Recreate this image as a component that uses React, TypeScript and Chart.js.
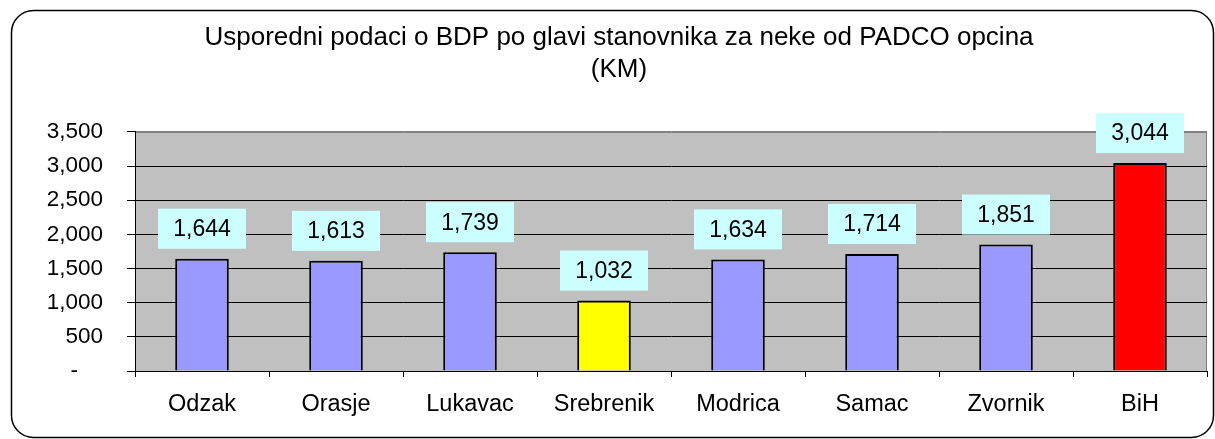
import React, { useEffect, useRef } from "react";
import { Chart, registerables } from "chart.js";

Chart.register(...registerables);

const categories = ["Odzak", "Orasje", "Lukavac", "Srebrenik", "Modrica", "Samac", "Zvornik", "BiH"];
const values = [1644, 1613, 1739, 1032, 1634, 1714, 1851, 3044];
const barColors = ["#9999FF", "#9999FF", "#9999FF", "#FFFF00", "#9999FF", "#9999FF", "#9999FF", "#FF0000"];
const titleLines = ["Usporedni podaci o BDP po glavi stanovnika za neke od PADCO opcina", "(KM)"];
const yMax = 3500;
const yStep = 500;

const FONT = "Arial, 'Liberation Sans', sans-serif";
const fmt = (v: number) => v.toLocaleString("en-US");

const frameAndBackground = {
  id: "frameAndBackground",
  beforeDraw(chart: any) {
    const { ctx, chartArea } = chart;
    ctx.save();
    ctx.fillStyle = "#FFFFFF";
    ctx.fillRect(0, 0, chart.width, chart.height);
    ctx.strokeStyle = "#000000";
    ctx.lineWidth = 1.5;
    ctx.beginPath();
    (ctx as any).roundRect(11.5, 10.5, 1202, 427, 22);
    ctx.stroke();
    ctx.fillStyle = "#C0C0C0";
    ctx.fillRect(chartArea.left, chartArea.top, chartArea.right - chartArea.left, chartArea.bottom - chartArea.top);
    ctx.strokeStyle = "#808080";
    ctx.lineWidth = 1;
    ctx.strokeRect(chartArea.left + 0.5, chartArea.top + 0.5, chartArea.right - chartArea.left - 1, chartArea.bottom - chartArea.top);
    ctx.restore();
  },
};

const valueBoxes = {
  id: "valueBoxes",
  afterDatasetsDraw(chart: any) {
    const { ctx } = chart;
    const meta = chart.getDatasetMeta(0);
    ctx.save();
    ctx.font = `23px ${FONT}`;
    ctx.textAlign = "center";
    ctx.textBaseline = "middle";
    meta.data.forEach((bar: any, i: number) => {
      const w = 88;
      const h = 40;
      const bottom = bar.y - 10;
      ctx.fillStyle = "#CCFFFF";
      ctx.fillRect(bar.x - w / 2, bottom - h, w, h);
      ctx.fillStyle = "#000000";
      ctx.fillText(fmt(values[i]), bar.x, bottom - h / 2 + 1);
    });
    ctx.restore();
  },
};

export default function App() {
  const ref = useRef<HTMLCanvasElement | null>(null);

  useEffect(() => {
    if (!ref.current) return;
    const chart = new Chart(ref.current, {
      type: "bar",
      data: {
        labels: categories,
        datasets: [
          {
            data: values,
            backgroundColor: barColors,
            borderColor: "#000000",
            borderWidth: 2,
            barPercentage: 0.4,
            categoryPercentage: 1,
          },
        ],
      },
      options: {
        responsive: false,
        animation: false,
        devicePixelRatio: 1,
        layout: { padding: { left: 31, right: 8, top: 0, bottom: 0 } },
        plugins: {
          legend: { display: false },
          tooltip: { enabled: false },
          title: {
            display: true,
            text: titleLines,
            color: "#000000",
            font: { family: FONT, size: 26, weight: "normal", lineHeight: 1.23 },
            padding: { top: 22, bottom: 46 },
          },
        },
        scales: {
          x: {
            grid: {
              display: true,
              drawOnChartArea: false,
              drawTicks: true,
              tickLength: 6,
              offset: true,
              color: "#000000",
            },
            border: { display: true, color: "#000000", width: 1 },
            ticks: {
              color: "#000000",
              font: { family: FONT, size: 23.5 },
              padding: 13,
              maxRotation: 0,
            },
            afterFit: (scale: any) => {
              scale.height = 68;
            },
          },
          y: {
            min: 0,
            max: yMax,
            ticks: {
              stepSize: yStep,
              color: "#000000",
              font: { family: FONT, size: 22.5 },
              padding: 24,
              callback: (v: any) => (Number(v) === 0 ? "-    " : fmt(Number(v))),
            },
            grid: {
              color: (c: any) => (c.tick && c.tick.value === yMax ? "#808080" : "#000000"),
              tickColor: "#000000",
              tickLength: 8,
              lineWidth: 1,
            },
            border: { display: true, color: "#000000", width: 1 },
            afterFit: (scale: any) => {
              scale.width = 104;
            },
          },
        },
      },
      plugins: [frameAndBackground, valueBoxes],
    });
    return () => chart.destroy();
  }, []);

  return (
    <div style={{ position: "absolute", left: 0, top: 0, width: 1215, height: 439 }}>
      <canvas ref={ref} width={1215} height={439} style={{ display: "block" }} />
    </div>
  );
}
